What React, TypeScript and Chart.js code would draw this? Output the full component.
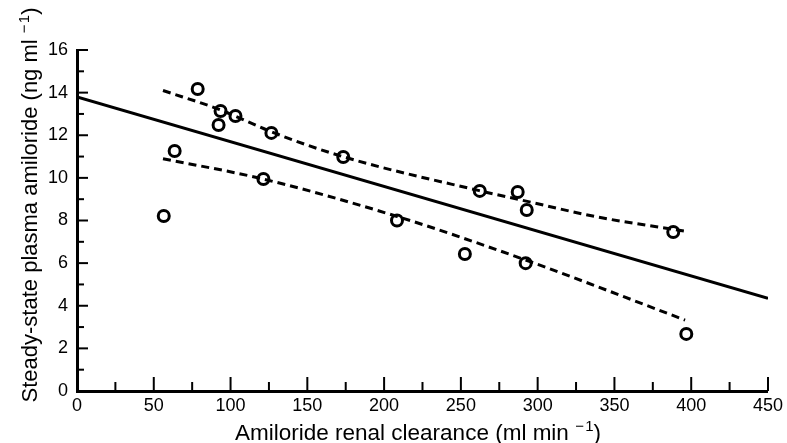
import React, { useEffect, useRef } from "react";
import { Chart, registerables } from "chart.js";

Chart.register(...registerables);

const clearance = [56.5, 63.6, 78.6, 93.5, 92.2, 103.2, 126.6, 121.4, 173.4, 208.4, 252.6, 262.3, 287, 292.9, 292.2, 388.3, 396.8];
const plasma = [8.21, 11.26, 14.17, 13.14, 12.48, 12.9, 12.11, 9.95, 10.98, 8.0, 6.43, 9.39, 9.34, 8.49, 6.0, 7.46, 2.68];

const fitX = [0, 450];
const fitY = [13.8, 4.35];

const upperX = [56, 93, 127, 173, 262, 290, 340, 396];
const upperY = [14.1, 13.2, 12.15, 11.0, 9.4, 8.95, 8.15, 7.5];

const lowerX = [56, 121, 208, 292, 396];
const lowerY = [10.9, 9.95, 8.2, 6.15, 3.33];

const xTickValues = [0, 50, 100, 150, 200, 250, 300, 350, 400, 450];
const yTickValues = [0, 2, 4, 6, 8, 10, 12, 14, 16];

const xTitleParts = ["Amiloride renal clearance (ml min", "\u2212\u200A1", ")"];
const yTitleParts = ["Steady-state plasma amiloride (ng ml", "\u2212\u200A1", ")"];

const FONT = "'Liberation Sans', Arial, sans-serif";

const toPts = (xs: number[], ys: number[]) => xs.map((x, i) => ({ x, y: ys[i] }));

function drawTitle(ctx: CanvasRenderingContext2D, parts: string[], cx: number, base: number, size: number) {
  const baseFont = `${size}px ${FONT}`;
  const supFont = `${Math.round(size * 0.68)}px ${FONT}`;
  ctx.font = baseFont;
  const w0 = ctx.measureText(parts[0] + " ").width;
  const w2 = ctx.measureText(parts[2]).width;
  ctx.font = supFont;
  const w1 = ctx.measureText(parts[1]).width;
  const total = w0 + w1 + w2;
  let x = cx - total / 2;
  ctx.textAlign = "left";
  ctx.textBaseline = "alphabetic";
  ctx.font = baseFont;
  ctx.fillText(parts[0] + " ", x, base);
  x += w0;
  ctx.font = supFont;
  ctx.fillText(parts[1], x, base - size * 0.38);
  x += w1;
  ctx.font = baseFont;
  ctx.fillText(parts[2], x, base);
}

const extrasPlugin = {
  id: "extras",
  afterDraw(chart: any) {
    const { ctx, scales, chartArea } = chart;
    const xs = scales.x;
    const ys = scales.y;
    ctx.save();
    ctx.strokeStyle = "#000";
    ctx.lineWidth = 2;
    for (let v = 1; v <= 16; v++) {
      const py = ys.getPixelForValue(v);
      const len = v % 2 === 0 ? 11 : 7;
      ctx.beginPath();
      ctx.moveTo(chartArea.left, py);
      ctx.lineTo(chartArea.left + len, py);
      ctx.stroke();
    }
    for (let v = 25; v <= 450; v += 25) {
      const px = xs.getPixelForValue(v);
      const len = v % 50 === 0 ? 14 : 9;
      ctx.beginPath();
      ctx.moveTo(px, chartArea.bottom);
      ctx.lineTo(px, chartArea.bottom - len);
      ctx.stroke();
    }
    ctx.fillStyle = "#000";
    drawTitle(ctx, xTitleParts, 418, 440, 22.5);
    ctx.translate(37, 205);
    ctx.rotate(-Math.PI / 2);
    drawTitle(ctx, yTitleParts, 0, 0, 22);
    ctx.restore();
  },
};

export default function App() {
  const ref = useRef<HTMLCanvasElement>(null);
  useEffect(() => {
    if (!ref.current) return;
    const chart = new Chart(ref.current, {
      type: "scatter",
      data: {
        datasets: [
          {
            data: toPts(clearance, plasma),
            showLine: false,
            pointRadius: 5.5,
            pointBorderWidth: 3,
            pointBorderColor: "#000",
            pointBackgroundColor: "rgba(0,0,0,0)",
            order: 0,
          },
          {
            data: toPts(fitX, fitY),
            showLine: true,
            borderColor: "#000",
            borderWidth: 3,
            pointRadius: 0,
            order: 1,
          },
          {
            data: toPts(upperX, upperY),
            showLine: true,
            borderColor: "#000",
            borderWidth: 3,
            borderDash: [8, 5],
            pointRadius: 0,
            cubicInterpolationMode: "monotone",
            order: 1,
          },
          {
            data: toPts(lowerX, lowerY),
            showLine: true,
            borderColor: "#000",
            borderWidth: 3,
            borderDash: [8, 5],
            pointRadius: 0,
            cubicInterpolationMode: "monotone",
            order: 1,
          },
        ],
      },
      options: {
        responsive: false,
        animation: false,
        layout: { padding: { top: 50, right: 17, left: 0, bottom: 0 } },
        plugins: { legend: { display: false }, tooltip: { enabled: false } },
        scales: {
          x: {
            type: "linear",
            min: 0,
            max: 450,
            afterFit: (s: any) => { s.height = 52; },
            afterBuildTicks: (s: any) => { s.ticks = xTickValues.map((v) => ({ value: v })); },
            grid: { display: false, drawTicks: false },
            border: { display: true, color: "#000", width: 3 },
            ticks: { color: "#000", font: { family: FONT, size: 18 }, padding: 4, maxRotation: 0 },
          },
          y: {
            type: "linear",
            min: 0,
            max: 16,
            afterFit: (s: any) => { s.width = 77; },
            afterBuildTicks: (s: any) => { s.ticks = yTickValues.map((v) => ({ value: v })); },
            grid: { display: false, drawTicks: false },
            border: { display: true, color: "#000", width: 3 },
            ticks: { color: "#000", font: { family: FONT, size: 18 }, padding: 9 },
          },
        },
      },
      plugins: [extrasPlugin],
    });
    return () => chart.destroy();
  }, []);
  return (
    <div style={{ position: "absolute", left: 0, top: 0, width: 787, height: 443, background: "#fff" }}>
      <canvas ref={ref} width={787} height={443} />
    </div>
  );
}
